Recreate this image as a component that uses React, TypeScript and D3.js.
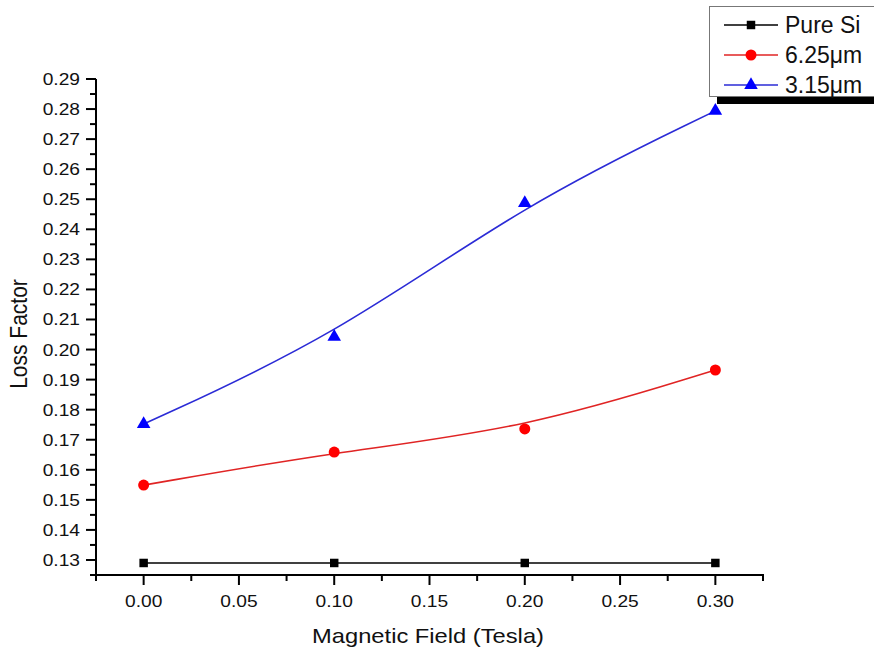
import React from 'react';
import * as d3 from 'd3';

const fieldValues = [0.0, 0.1, 0.2, 0.3];
const pureSi = [0.129, 0.129, 0.129, 0.129];
const film625 = [0.1549, 0.1659, 0.1736, 0.1932];
const film315 = [0.1752, 0.2042, 0.2487, 0.2794];
const seriesNames = ['Pure Si', '6.25\u03BCm', '3.15\u03BCm'];
const xTickLabels = ['0.00', '0.05', '0.10', '0.15', '0.20', '0.25', '0.30'];
const yTickLabels = ['0.13', '0.14', '0.15', '0.16', '0.17', '0.18', '0.19', '0.20', '0.21', '0.22', '0.23', '0.24', '0.25', '0.26', '0.27', '0.28', '0.29'];

const W = 874;
const H = 650;
const font = '"Liberation Sans", Arial, sans-serif';
// the source picture is a bit wider than tall, so the text is stretched sideways
const sx = 1.13;

export default function App() {
  const x = d3.scaleLinear().domain([-0.025, 0.325]).range([96, 763]);
  const y = d3.scaleLinear().domain([0.125, 0.29]).range([575, 79]);

  const series = [
    { name: seriesNames[0], values: pureSi, line: '#000000', fill: '#000000', shape: 'square' },
    { name: seriesNames[1], values: film625, line: '#e02424', fill: '#ff0000', shape: 'circle' },
    { name: seriesNames[2], values: film315, line: '#2b2bd6', fill: '#0000ff', shape: 'triangle' },
  ];

  const line = d3.line<number>()
    .x((d, i) => x(fieldValues[i]))
    .y(d => y(d))
    .curve(d3.curveBasis);

  const sq = d3.symbol().type(d3.symbolSquare).size(72)() as string;
  const tri = d3.symbol().type(d3.symbolTriangle).size(80)() as string;

  const marker = (shape: string, cx: number, cy: number, fill: string, key: any) => {
    if (shape === 'circle') return <circle key={key} cx={cx} cy={cy} r={5.5} fill={fill} />;
    const p = shape === 'square' ? sq : tri;
    return <path key={key} d={p} transform={`translate(${cx},${cy})`} fill={fill} />;
  };

  const xMinor = d3.range(-0.025, 0.326, 0.05);
  const yMinor = d3.range(0.125, 0.291, 0.01);
  const xMajor = xTickLabels.map(Number);
  const yMajor = yTickLabels.map(Number);

  return (
    <svg width={W} height={H} style={{ position: 'absolute', left: 0, top: 0, background: '#fff' }} fontFamily={font}>
      {/* data */}
      {series.map(s => (
        <g key={s.name}>
          <path d={line(s.values) as string} fill="none" stroke={s.line} strokeWidth={1.6} />
          {s.values.map((v, i) => marker(s.shape, x(fieldValues[i]), y(v), s.fill, i))}
        </g>
      ))}

      {/* y axis */}
      <line x1={96} x2={96} y1={79} y2={576} stroke="#000" strokeWidth={2} />
      {yMajor.map((v, i) => (
        <g key={'ym' + i}>
          <line x1={86} x2={96} y1={y(v)} y2={y(v)} stroke="#000" strokeWidth={2} />
          <text transform={`translate(80,${y(v)}) scale(${sx},1)`} dy="0.35em" textAnchor="end" fontSize={17} fill="#111">{yTickLabels[i]}</text>
        </g>
      ))}
      {yMinor.map((v, i) => (
        <line key={'yn' + i} x1={90} x2={96} y1={y(v)} y2={y(v)} stroke="#000" strokeWidth={2} />
      ))}

      {/* x axis */}
      <line x1={95} x2={764} y1={575} y2={575} stroke="#000" strokeWidth={2} />
      {xMajor.map((v, i) => (
        <g key={'xm' + i}>
          <line x1={x(v)} x2={x(v)} y1={575} y2={585} stroke="#000" strokeWidth={2} />
          <text transform={`translate(${x(v)},607) scale(${sx},1)`} textAnchor="middle" fontSize={17} fill="#111">{xTickLabels[i]}</text>
        </g>
      ))}
      {xMinor.map((v, i) => (
        <line key={'xn' + i} x1={x(v)} x2={x(v)} y1={575} y2={581} stroke="#000" strokeWidth={2} />
      ))}

      {/* axis titles */}
      <text transform={`translate(428,643) scale(${sx},1)`} textAnchor="middle" fontSize={21} fill="#111">Magnetic Field (Tesla)</text>
      <text transform={`translate(27,334) scale(${sx},1) rotate(-90)`} textAnchor="middle" fontSize={21} fill="#111">Loss Factor</text>

      {/* legend */}
      <rect x={717} y={97} width={160} height={7} fill="#000" />
      <rect x={709.5} y={6.5} width={200} height={90} fill="#fff" stroke="#777" strokeWidth={1} />
      {series.map((s, i) => {
        const ly = 25 + i * 30;
        return (
          <g key={'lg' + i}>
            <line x1={724} x2={778} y1={ly} y2={ly} stroke={s.line} strokeWidth={1.6} />
            {marker(s.shape, 751, ly, s.fill, 'm')}
            <text x={785} y={ly} dy="0.36em" fontSize={23} fill="#111">{s.name}</text>
          </g>
        );
      })}
    </svg>
  );
}
